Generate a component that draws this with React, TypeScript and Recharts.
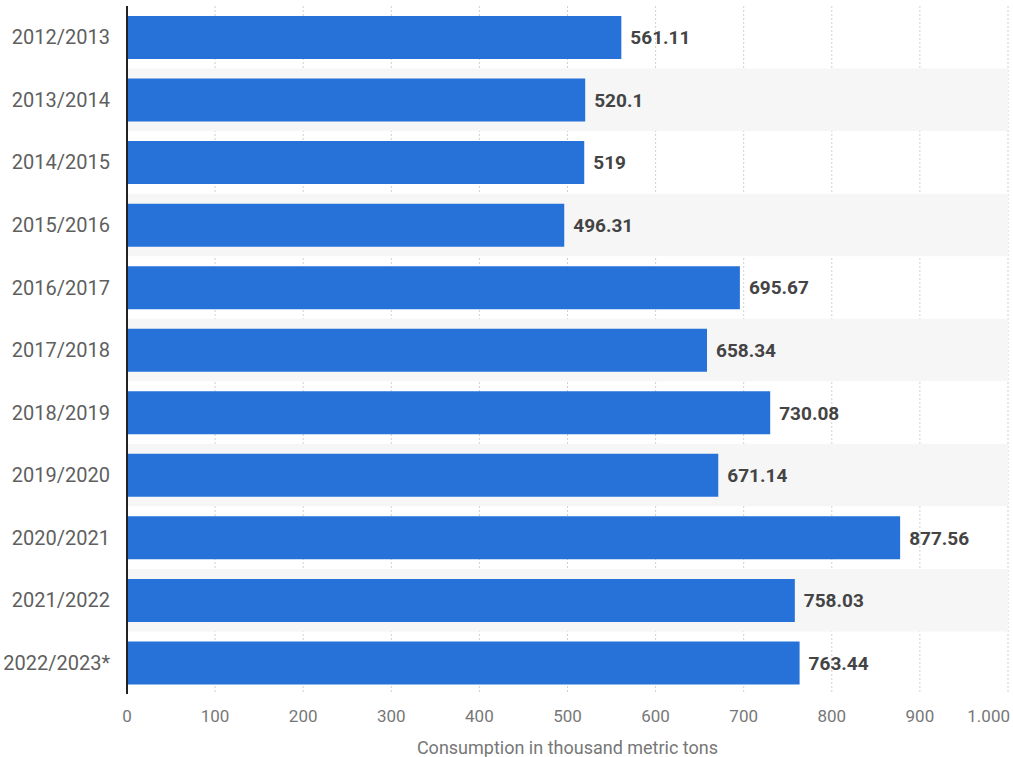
import React from 'react';
import { BarChart, Bar, XAxis, YAxis, CartesianGrid, LabelList, ReferenceArea } from 'recharts';

const categories = ['2012/2013', '2013/2014', '2014/2015', '2015/2016', '2016/2017', '2017/2018', '2018/2019', '2019/2020', '2020/2021', '2021/2022', '2022/2023*'];
const values = [561.11, 520.1, 519, 496.31, 695.67, 658.34, 730.08, 671.14, 877.56, 758.03, 763.44];
const xTicks = [0, 100, 200, 300, 400, 500, 600, 700, 800, 900, 1000];
const axisTitle = 'Consumption in thousand metric tons';

const data = categories.map((c, i) => ({ name: c, value: values[i] }));

const fmt = (v: number) => (v >= 1000 ? v.toLocaleString('de-DE') : String(v));

const XTick = (props: any) => {
  const { x, y, payload, index } = props;
  const last = index === xTicks.length - 1;
  return (
    <text x={last ? x + 2 : x} y={y} dy="0.71em" textAnchor={last ? 'end' : 'middle'} fill="#777" fontSize={17} fontFamily="Roboto">
      {fmt(payload.value)}
    </text>
  );
};

export default function App() {
  return (
    <div style={{ position: 'absolute', left: 0, top: 0, background: '#fff', fontFamily: 'Roboto' }}>
      <BarChart
        width={1013}
        height={757}
        data={data}
        layout="vertical"
        margin={{ top: 6, right: 5, bottom: 0, left: 0 }}
        barSize={43}
      >
        {categories.map((c, i) =>
          i % 2 === 1 ? (
            <ReferenceArea key={c} y1={c} y2={c} x1={0} x2={1000} fill="#f6f6f6" fillOpacity={1} stroke="none" ifOverflow="visible" />
          ) : null
        )}
        <CartesianGrid vertical horizontal={false} stroke="#d0d0d0" strokeDasharray="2 2" />
        <XAxis
          type="number"
          domain={[0, 1000]}
          ticks={xTicks}
          interval={0}
          axisLine={false}
          tickLine={false}
          tickMargin={10}
          height={63}
          tick={<XTick />}
          label={{ value: axisTitle, position: 'insideBottom', offset: 3, fill: '#777', fontSize: 18, fontFamily: 'Roboto' }}
        />
        <YAxis
          type="category"
          dataKey="name"
          width={127}
          axisLine={{ stroke: '#222', strokeWidth: 2 }}
          tickLine={false}
          tickMargin={11}
          interval={0}
          tick={{ fill: '#5f5f5f', fontSize: 20, fontFamily: 'Roboto' }}
        />
        <Bar dataKey="value" fill="#2672d8" isAnimationActive={false}>
          <LabelList dataKey="value" position="right" offset={9} fill="#444" fontSize={19} fontWeight={700} fontFamily="Roboto" />
        </Bar>
      </BarChart>
    </div>
  );
}
